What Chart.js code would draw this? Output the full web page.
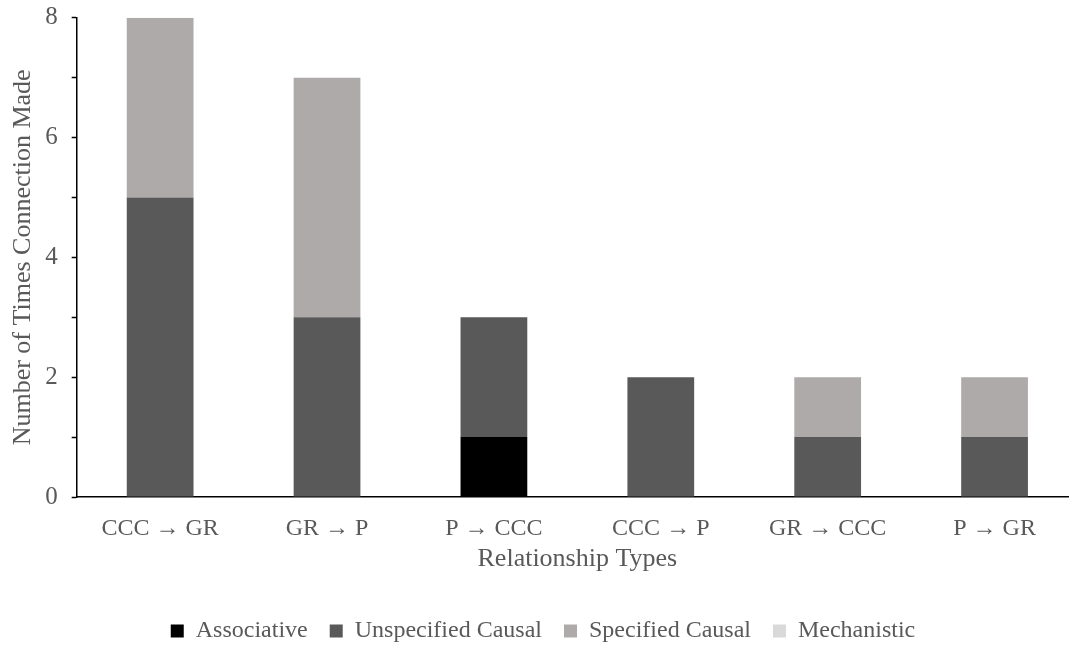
<!DOCTYPE html>
<html>
<head>
<meta charset="utf-8">
<script src="https://cdn.jsdelivr.net/npm/chart.js@4"></script>
<style>
  html, body { margin: 0; padding: 0; background: #fff; overflow: hidden; }
  #wrap { width: 1080px; height: 645px; }
</style>
</head>
<body>
<div id="wrap"><canvas id="chart-relaciones"></canvas></div>
<script>
// categorías y series
const categories = ["CCC \u2192 GR", "GR \u2192 P", "P \u2192 CCC", "CCC \u2192 P", "GR \u2192 CCC", "P \u2192 GR"];
const associative = [0, 0, 1, 0, 0, 0];
const unspecifiedCausal = [5, 3, 2, 2, 1, 1];
const specifiedCausal = [3, 4, 0, 0, 1, 1];
const mechanistic = [0, 0, 0, 0, 0, 0];
const yTicks = [0, 2, 4, 6, 8];

const FONT = "'Liberation Serif', 'Times New Roman', serif";
const GRIS = '#595959';

const ctx = document.getElementById('chart-relaciones');

new Chart(ctx.getContext('2d'), {
    type: 'bar',
    data: {
        labels: categories,
        datasets: [
            { label: 'Associative', data: associative, backgroundColor: '#000000' },
            { label: 'Unspecified Causal', data: unspecifiedCausal, backgroundColor: '#595959' },
            { label: 'Specified Causal', data: specifiedCausal, backgroundColor: '#AEAAAA' },
            { label: 'Mechanistic', data: mechanistic, backgroundColor: '#D9D9D9' }
        ]
    },
    options: {
        responsive: true,
        maintainAspectRatio: false,
        animation: false,
        categoryPercentage: 0.4,
        barPercentage: 1,
        layout: { padding: { top: 0, right: 2, left: 8, bottom: -8 } },
        scales: {
            x: {
                stacked: true,
                grid: { display: false },
                border: { display: true, color: '#000', width: 1.5 },
                ticks: { color: GRIS, font: { family: FONT, size: 24 }, padding: 9 },
                title: { display: true, text: 'Relationship Types', color: GRIS, font: { family: FONT, size: 26 }, padding: { top: -8, bottom: 22 } }
            },
            y: {
                stacked: true,
                min: 0,
                max: 8,
                grid: { display: true, drawOnChartArea: false, drawTicks: true, tickLength: 5, color: '#000', tickWidth: 1.5 },
                border: { display: true, color: '#000', width: 1.5 },
                ticks: {
                    stepSize: 1,
                    color: GRIS,
                    font: { family: FONT, size: 25, lineHeight: 0.3 },
                    padding: 14,
                    callback: (v) => yTicks.includes(v) ? v : ''
                },
                title: { display: true, text: 'Number of Times Connection Made', color: GRIS, font: { family: FONT, size: 26 }, padding: { top: 0, bottom: -8 } }
            }
        },
        plugins: {
            legend: {
                position: 'bottom',
                labels: {
                    boxWidth: 13,
                    boxHeight: 13,
                    padding: 22,
                    color: GRIS,
                    font: { family: FONT, size: 24 }
                }
            },
            tooltip: { enabled: false }
        }
    }
});
</script>
</body>
</html>
